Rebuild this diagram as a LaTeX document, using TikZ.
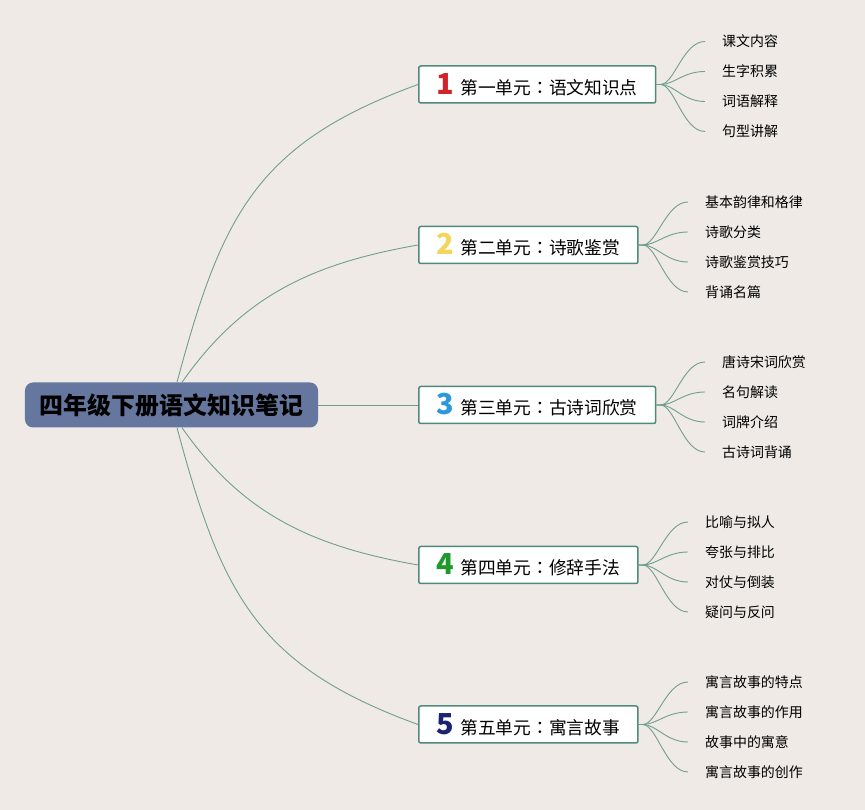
\documentclass[tikz,border=0pt]{standalone}
\usepackage{fontspec}
\setmainfont{Noto Sans CJK SC}
\newfontfamily\colonfont{Noto Sans CJK JP}
\usetikzlibrary{positioning}

\definecolor{paper}{HTML}{EFEAE5}
\definecolor{rootfill}{HTML}{65779F}
\definecolor{boxline}{HTML}{4F8B7C}
\definecolor{linkline}{HTML}{6FA08F}
\definecolor{numone}{HTML}{D2232A}
\definecolor{numtwo}{HTML}{F2D55A}
\definecolor{numthree}{HTML}{2B97DD}
\definecolor{numfour}{HTML}{1E9A2A}
\definecolor{numfive}{HTML}{1B2470}

\tikzset{
  rootbox/.style={fill=rootfill, rounded corners=8bp, minimum width=293bp, minimum height=45bp,
    inner sep=0pt, font=\fontsize{24}{24}\selectfont\bfseries},
  unitbox/.style={draw=boxline, line width=1.5bp, fill=white, rounded corners=2bp, minimum height=37bp,
    inner xsep=18bp, inner ysep=0pt, anchor=west, font=\fontsize{17.8}{18}\selectfont},
  leaf/.style={anchor=west, inner xsep=17bp, inner ysep=0pt, font=\fontsize{14}{14}\selectfont},
  branch/.style={draw=linkline, line width=0.9bp},
  twig/.style={draw=linkline, line width=0.9bp}
}
\newcommand{\unitnum}[2]{{\bfseries\fontsize{29}{29}\selectfont\color{#1}#2}\hspace{6bp}}
\newcommand{\ucolon}{{\colonfont ：}}

\begin{document}
\begin{tikzpicture}[x=1bp,y=1bp]
\fill[paper] (0,0) rectangle (865,810);
\useasboundingbox (0,0) rectangle (865,810);

% root and the five units
\node[rootbox] (root) at (171.5,405) {四年级下册语文知识笔记};
\node[unitbox] (u1) at (418,725.5) {\unitnum{numone}{1}第一单元\ucolon 语文知识点};
\node[unitbox] (u2) at (418,565) {\unitnum{numtwo}{2}第二单元\ucolon 诗歌鉴赏};
\node[unitbox] (u3) at (418,405) {\unitnum{numthree}{3}第三单元\ucolon 古诗词欣赏};
\node[unitbox] (u4) at (418,245) {\unitnum{numfour}{4}第四单元\ucolon 修辞手法};
\node[unitbox] (u5) at (418,85.5) {\unitnum{numfive}{5}第五单元\ucolon 寓言故事};

\draw[branch] ([xshift=5.5bp]root.north) to[out=75,in=200,looseness=1.15] (u1.west);
\draw[branch] ([xshift=10.5bp]root.north) to[out=55,in=190] (u2.west);
\draw[branch] (root.east) -- (u3.west);
\draw[branch] ([xshift=10.5bp]root.south) to[out=-55,in=170] (u4.west);
\draw[branch] ([xshift=5.5bp]root.south) to[out=-75,in=160,looseness=1.15] (u5.west);

% leaves of unit 1
\node[leaf] (l1a) at (705,768.5) {课文内容};
\node[leaf] (l1b) at (705,738.5) {生字积累};
\node[leaf] (l1c) at (705,708.5) {词语解释};
\node[leaf] (l1d) at (705,678.5) {句型讲解};
% leaves of unit 2
\node[leaf] (l2a) at (688,608) {基本韵律和格律};
\node[leaf] (l2b) at (688,578) {诗歌分类};
\node[leaf] (l2c) at (688,548) {诗歌鉴赏技巧};
\node[leaf] (l2d) at (688,518) {背诵名篇};
% leaves of unit 3
\node[leaf] (l3a) at (705,448) {唐诗宋词欣赏};
\node[leaf] (l3b) at (705,418) {名句解读};
\node[leaf] (l3c) at (705,388) {词牌介绍};
\node[leaf] (l3d) at (705,358) {古诗词背诵};
% leaves of unit 4
\node[leaf] (l4a) at (688,288) {比喻与拟人};
\node[leaf] (l4b) at (688,258) {夸张与排比};
\node[leaf] (l4c) at (688,228) {对仗与倒装};
\node[leaf] (l4d) at (688,198) {疑问与反问};
% leaves of unit 5
\node[leaf] (l5a) at (688,128) {寓言故事的特点};
\node[leaf] (l5b) at (688,98) {寓言故事的作用};
\node[leaf] (l5c) at (688,68) {故事中的寓意};
\node[leaf] (l5d) at (688,38) {寓言故事的创作};

\foreach \u in {1,...,5}
  \foreach \l in {a,b,c,d}
    \draw[twig] (u\u.east) -- ++(4,0) .. controls +(14,0) and +(-22,0) .. (l\u\l.west);
\end{tikzpicture}
\end{document}
